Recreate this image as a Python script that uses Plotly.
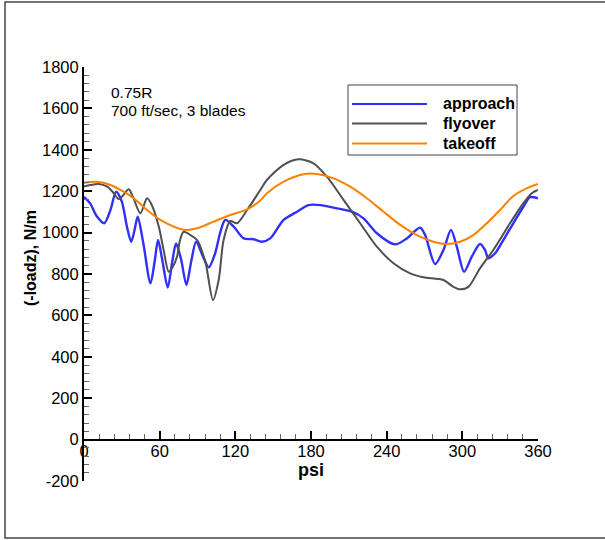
import plotly.graph_objects as go

# Blade section load vs azimuth at 0.75R, 700 ft/sec tip speed, 3 blades
approach_psi = [0, 5, 10, 16, 21, 25.5, 30, 34, 37.4, 40, 42.6, 47, 52.7, 56, 58.7, 62, 66.4,
                70, 73, 77, 81.2, 85, 88.9, 94, 98.9, 104, 108, 112, 118.7, 126.6, 134.5, 141,
                147.7, 158.3, 168.9, 178, 187.3, 200.6, 212.4, 221.6, 232.2, 246.7, 256, 266.5,
                270.5, 278.4, 285, 291, 295.6, 301.4, 307.5, 314, 318, 320.6, 326, 332.5, 340.4,
                348.4, 353.7, 360]
approach_load = [1173, 1140, 1080, 1045, 1110, 1198, 1150, 1030, 956, 1010, 1077, 950, 755, 860,
                 964, 870, 735, 860, 948, 870, 747, 860, 956, 890, 832, 900, 1000, 1061, 1029,
                 972, 968, 956, 972, 1061, 1101, 1133, 1133, 1117, 1101, 1069, 997, 943, 972,
                 1024, 988, 848, 916, 1013, 932, 811, 884, 945, 916, 876, 900, 964, 1045, 1125,
                 1171, 1166]

flyover_psi = [0, 5, 11.7, 18.4, 23, 27.6, 31, 35.5, 39, 44.7, 50, 54, 59.3, 63, 67.2, 70, 73.8,
               76, 79, 84.4, 89.7, 96.2, 102.3, 106.8, 110.7, 116, 121.3, 129.3, 139.8, 145,
               158.3, 170.1, 182, 192.6, 205.8, 219, 232.2, 245.4, 258.6, 269.1, 285, 292.9,
               298.2, 304.8, 314, 324.6, 337.8, 348.4, 355, 360]
flyover_load = [1222, 1230, 1235, 1222, 1195, 1161, 1180, 1209, 1170, 1093, 1166, 1130, 1029, 920,
                811, 830, 884, 960, 1004, 988, 964, 859, 674, 771, 964, 1056, 1045, 1109, 1206,
                1254, 1327, 1354, 1335, 1270, 1158, 1045, 932, 852, 803, 784, 771, 738, 726, 738,
                827, 916, 1045, 1142, 1190, 1206]

takeoff_psi = [0, 10.5, 21, 28.9, 39.4, 50, 60.6, 71.1, 80.4, 89.7, 102.8, 116, 129.3, 139.8,
               145.1, 158.3, 174.1, 184.7, 197.9, 211.1, 224.3, 237.5, 250.7, 263.9, 277.1,
               287.7, 298.2, 308.7, 319.4, 329.9, 340.4, 351, 360]
takeoff_load = [1241, 1246, 1230, 1206, 1166, 1109, 1061, 1029, 1013, 1021, 1053, 1085, 1112,
                1155, 1190, 1246, 1282, 1283, 1262, 1222, 1166, 1101, 1037, 988, 956, 945, 956,
                988, 1045, 1109, 1177, 1214, 1235]

series_names = ["approach", "flyover", "takeoff"]
series_colors = ["#3030f8", "#505050", "#ff8000"]
series_widths = [2.4, 2.0, 2.0]

x_ticks = [0, 60, 120, 180, 240, 300, 360]
x_tick_text = ["0", "60", "120", "180", "240", "300", "360"]
y_ticks = [-200, 0, 200, 400, 600, 800, 1000, 1200, 1400, 1600, 1800]
y_tick_text = ["-200", "0", "200", "400", "600", "800", "1000", "1200", "1400", "1600", "1800"]

W, H = 605, 540
M_L, M_R, M_T, M_B = 84, 67, 67, 59
PW = W - M_L - M_R
PH = H - M_T - M_B


def px_x(px):
    return (px - M_L) / PW


def px_y(py):
    return (H - M_B - py) / PH


FONT = "Liberation Sans, Arial, Helvetica, sans-serif"
TICK_SIZE = 16.5

fig = go.Figure()
for name, xs, ys, col, w in zip(series_names,
                                [approach_psi, flyover_psi, takeoff_psi],
                                [approach_load, flyover_load, takeoff_load],
                                series_colors, series_widths):
    fig.add_trace(go.Scatter(x=xs, y=ys, mode="lines", name=name,
                             line=dict(color=col, width=w, shape="spline", smoothing=0.8),
                             showlegend=False))

# x axis sits on the zero line of the load axis
fig.update_xaxes(range=[0, 360], tickvals=x_ticks, ticktext=x_tick_text, showline=True,
                 linecolor="black", linewidth=2, ticks="inside", ticklen=8, tickwidth=2,
                 tickcolor="black",
                 minor=dict(dtick=12, ticks="inside", ticklen=5, tickwidth=1, tickcolor="#666"),
                 showgrid=False, zeroline=False, anchor="free", position=0.1,
                 ticklabelstandoff=-3,
                 tickfont=dict(size=TICK_SIZE, color="black", family=FONT))
fig.update_yaxes(range=[-200, 1800], tickvals=y_ticks, ticktext=y_tick_text, showline=True,
                 linecolor="black", linewidth=2, ticks="inside", ticklen=8, tickwidth=2,
                 tickcolor="black",
                 minor=dict(dtick=40, ticks="inside", ticklen=5, tickwidth=1, tickcolor="#666"),
                 showgrid=False, zeroline=False,
                 tickfont=dict(size=TICK_SIZE, color="black", family=FONT))

shapes = []
annotations = []

# outer frame
shapes.append(dict(type="rect", xref="paper", yref="paper",
                   x0=px_x(5), x1=px_x(625), y0=px_y(538), y1=px_y(2),
                   line=dict(color="#444", width=1.5), layer="above"))

# legend box
shapes.append(dict(type="rect", xref="paper", yref="paper",
                   x0=px_x(348), x1=px_x(517), y0=px_y(155), y1=px_y(85),
                   line=dict(color="#444", width=1), fillcolor="white", layer="above"))
for name, col, row_y in zip(series_names, series_colors, [104, 123.5, 143.5]):
    shapes.append(dict(type="line", xref="paper", yref="paper",
                       x0=px_x(352), x1=px_x(427), y0=px_y(row_y), y1=px_y(row_y),
                       line=dict(color=col, width=2.2), layer="above"))
    annotations.append(dict(text=name, xref="paper", yref="paper", x=px_x(441), y=px_y(row_y),
                            xanchor="left", yanchor="middle", showarrow=False,
                            font=dict(size=16, color="black", family=FONT, weight="bold")))

annotations.append(dict(text="0.75R", xref="paper", yref="paper", x=px_x(109), y=px_y(92.5),
                        xanchor="left", yanchor="middle", showarrow=False,
                        font=dict(size=15.5, color="black", family=FONT)))
annotations.append(dict(text="700 ft/sec, 3 blades", xref="paper", yref="paper", x=px_x(109),
                        y=px_y(110.5), xanchor="left", yanchor="middle", showarrow=False,
                        font=dict(size=15.5, color="black", family=FONT)))
annotations.append(dict(text="psi", xref="paper", yref="paper", x=0.5, y=px_y(469.5),
                        xanchor="center", yanchor="middle", showarrow=False,
                        font=dict(size=18, color="black", family=FONT, weight="bold")))
annotations.append(dict(text="(-loadz), N/m", xref="paper", yref="paper", x=px_x(30),
                        y=px_y(258), xanchor="center", yanchor="middle", textangle=-90,
                        showarrow=False,
                        font=dict(size=16, color="black", family=FONT, weight="bold")))

fig.update_layout(width=W, height=H, autosize=False,
                  margin=dict(l=M_L, r=M_R, t=M_T, b=M_B, pad=0),
                  plot_bgcolor="white", paper_bgcolor="white",
                  shapes=shapes, annotations=annotations, showlegend=False,
                  font=dict(family=FONT, color="black"))

fig.write_html("out.html")
